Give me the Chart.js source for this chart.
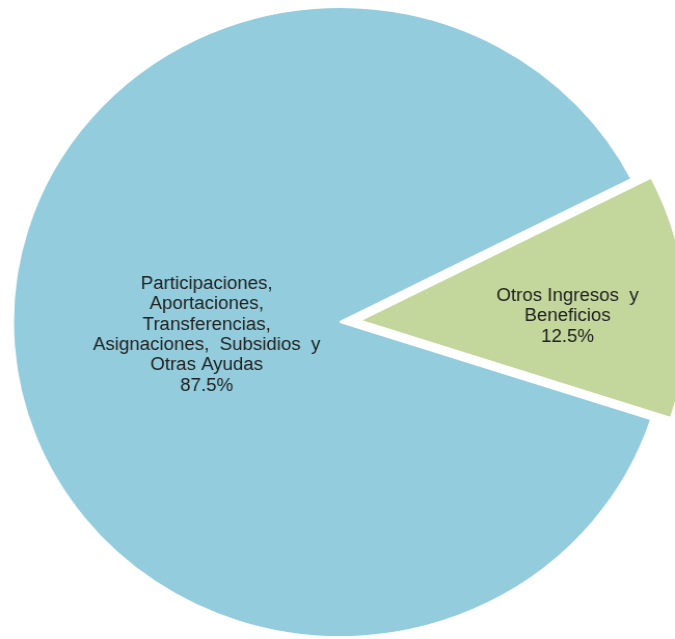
<!DOCTYPE html>
<html>
<head>
<meta charset="utf-8">
<script src="https://cdn.jsdelivr.net/npm/chart.js@4"></script>
<style>
  html, body { margin: 0; padding: 0; background: #fff; overflow: hidden; }
</style>
</head>
<body>
<!-- the source image is a little wider than tall, so the canvas is stretched sideways -->
<canvas id="myChart" width="650" height="639" style="width:675px;height:639px;display:block"></canvas>
<script>
const labels = [
    ["Participaciones,", "Aportaciones,", "Transferencias,", "Asignaciones,  Subsidios  y", "Otras Ayudas"],
    ["Otros Ingresos  y", "Beneficios"]
];

const values = [87.5, 12.5];

const colors = ["#93CDDD", "#C3D69B"];

// pulled-out distance (px) per slice
const explodeBy = [0, 19];

// label placement: fraction of radius, angle tweak in degrees
const labelDist = [0.41, 0.635];
const labelTurn = [-1.2, 3.3];

const explode = {
    id: "explode",
    afterDatasetUpdate(chart, args) {
        const meta = chart.getDatasetMeta(args.index);
        meta.data.forEach((arc, i) => {
            const d = explodeBy[i] || 0;
            const mid = (arc.startAngle + arc.endAngle) / 2;
            arc.x += Math.cos(mid) * d;
            arc.y += Math.sin(mid) * d;
        });
    }
};

const sliceLabels = {
    id: "sliceLabels",
    afterDatasetsDraw(chart) {
        const ctx = chart.ctx;
        const meta = chart.getDatasetMeta(0);
        ctx.save();
        ctx.font = "18px 'Liberation Sans', Arial, sans-serif";
        ctx.fillStyle = "#222222";
        ctx.textAlign = "center";
        ctx.textBaseline = "middle";
        meta.data.forEach((arc, i) => {
            const mid = (arc.startAngle + arc.endAngle) / 2 + labelTurn[i] * Math.PI / 180;
            const d = labelDist[i] * arc.outerRadius;
            const cx = arc.x + Math.cos(mid) * d;
            const cy = arc.y + Math.sin(mid) * d;
            const lines = labels[i].concat([values[i].toFixed(1) + "%"]);
            const lh = 20.3;
            const top = cy - (lines.length - 1) * lh / 2;
            lines.forEach((t, k) => ctx.fillText(t, cx, top + k * lh));
        });
        ctx.restore();
    }
};

const ctx = document.getElementById("myChart").getContext("2d");

const myChart = new Chart(ctx, {
    type: "pie",
    data: {
        labels: labels.map(l => l.join(" ")),
        datasets: [{
            data: values,
            backgroundColor: colors,
            borderColor: "#ffffff",
            borderWidth: 2,
            hoverOffset: 0,
            clip: false
        }]
    },
    options: {
        responsive: false,
        animation: false,
        events: [],
        rotation: 108,
        radius: 315,
        layout: { padding: { left: 5, right: 0, top: 5, bottom: 0 } },
        plugins: {
            legend: { display: false },
            tooltip: { enabled: false }
        }
    },
    plugins: [explode, sliceLabels]
});
</script>
</body>
</html>
